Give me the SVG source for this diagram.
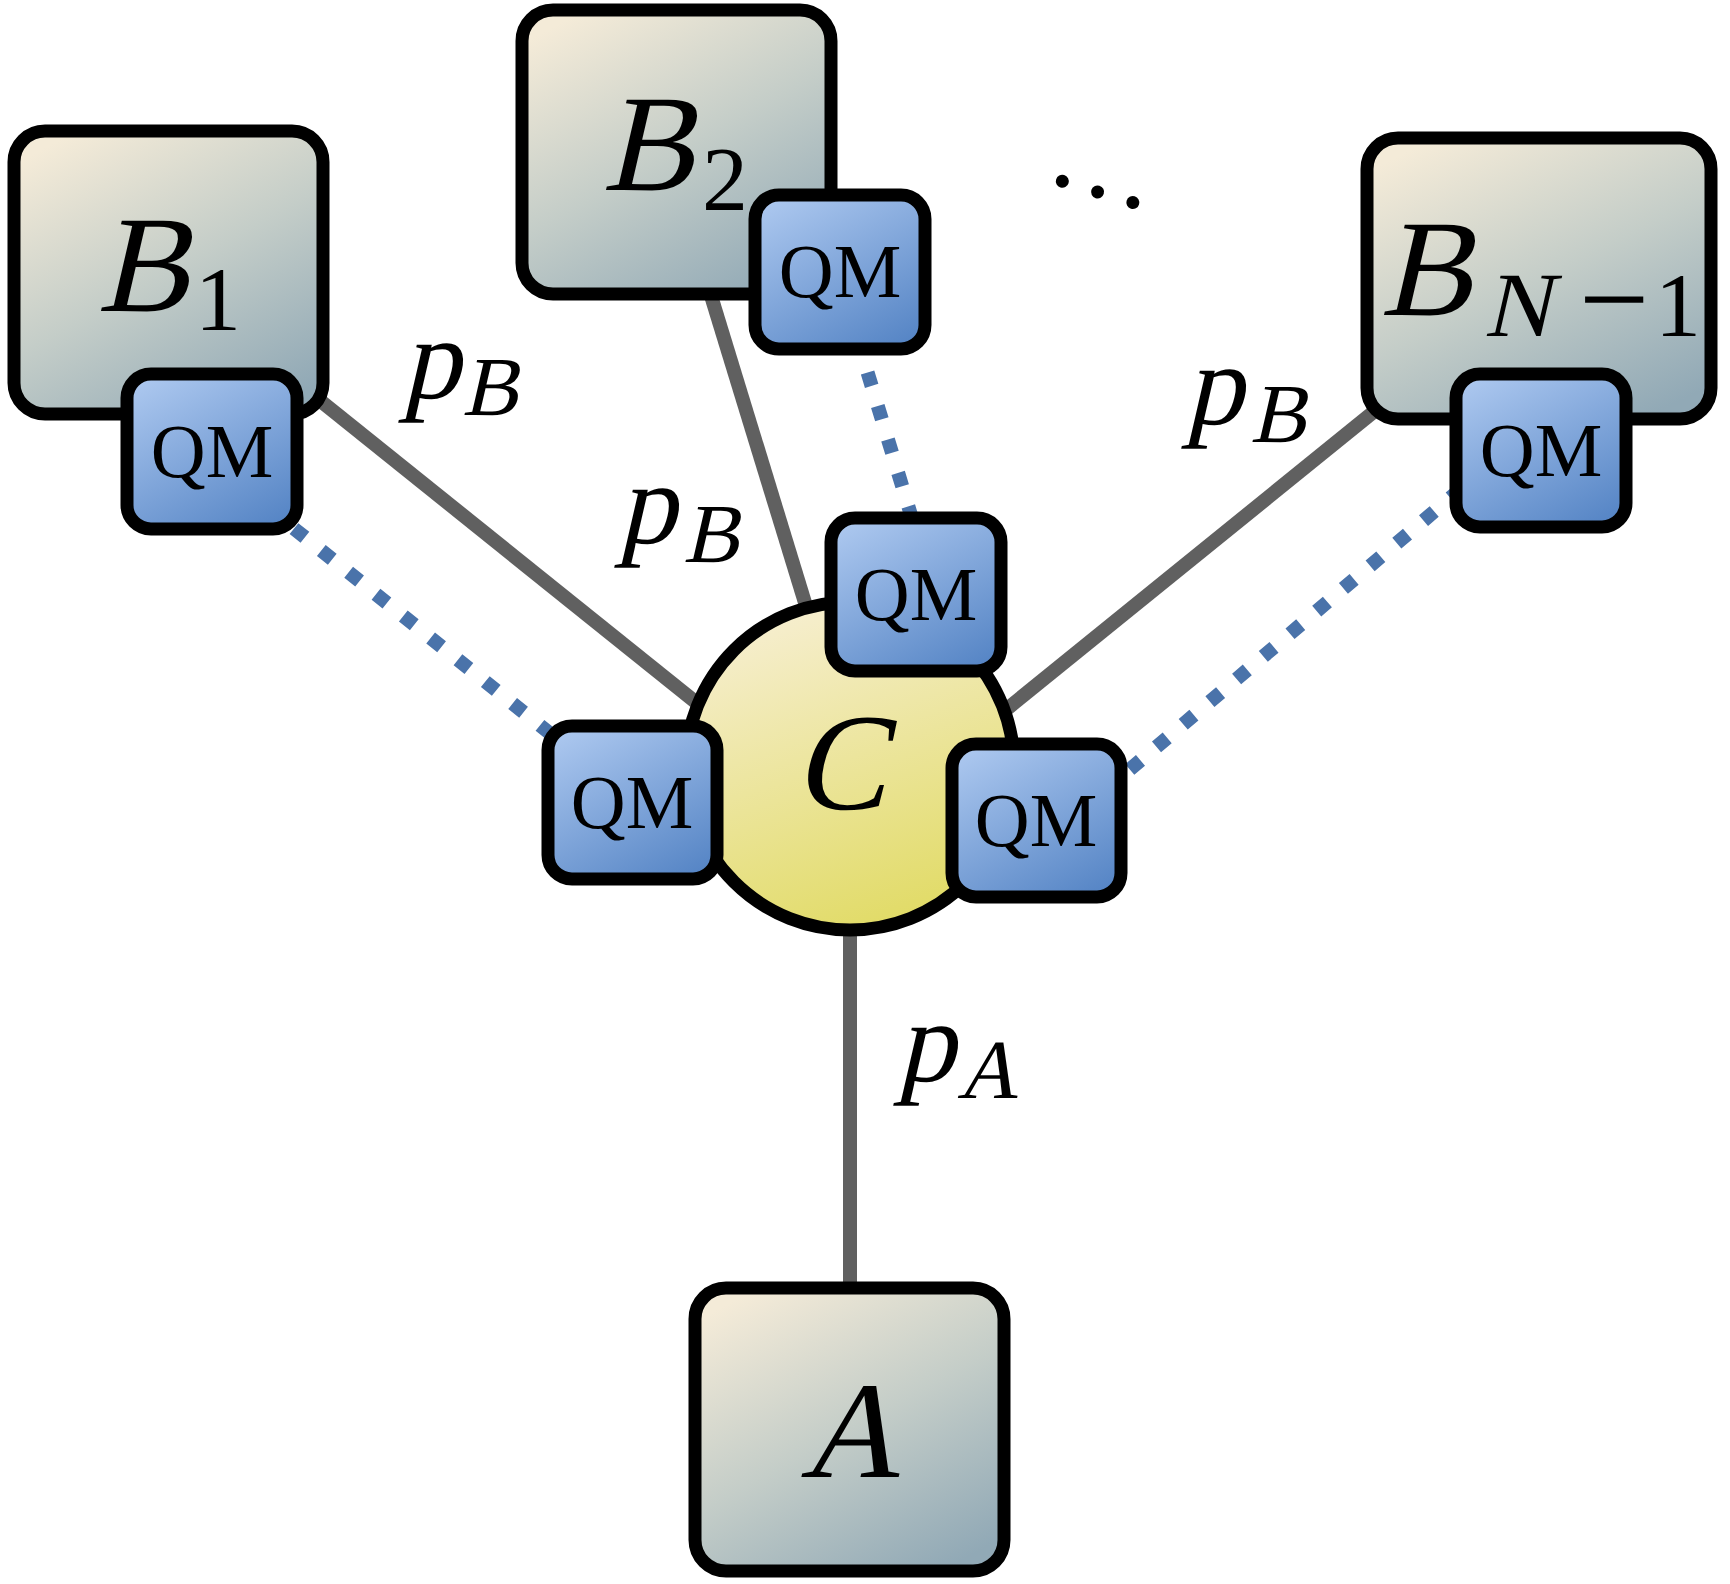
<svg xmlns="http://www.w3.org/2000/svg" width="1730" height="1584" viewBox="0 0 1730 1584">
<defs>
<linearGradient id="gBox" x1="0.2" y1="0" x2="0.8" y2="1">
<stop offset="0" stop-color="#f4ebd8"/>
<stop offset="0.5" stop-color="#c4cdc8"/>
<stop offset="1" stop-color="#91a9b6"/>
</linearGradient>
<linearGradient id="gQM" x1="0.2" y1="0" x2="0.8" y2="1">
<stop offset="0" stop-color="#aac6ee"/>
<stop offset="1" stop-color="#5786c6"/>
</linearGradient>
<linearGradient id="gC" x1="0.25" y1="0" x2="0.6" y2="1">
<stop offset="0" stop-color="#f7efd3"/>
<stop offset="1" stop-color="#e1db66"/>
</linearGradient>
</defs>
<style>
.box{fill:url(#gBox);stroke:#000;stroke-width:13}
.qm{fill:url(#gQM);stroke:#000;stroke-width:13}
.circ{fill:url(#gC);stroke:#000;stroke-width:13}
.wire{stroke:#606060;stroke-width:14;fill:none}
.dot{stroke:#4a73aa;stroke-width:14;stroke-dasharray:14 21;fill:none}
text{font-family:"Liberation Serif","Times New Roman",serif;fill:#000}
.qmt{font-size:76px;text-anchor:middle}
.big{font-size:138px}
.lbl{font-size:116px}
.sub{font-size:84px}
.num{font-size:92px}
</style>
<rect width="1730" height="1584" fill="#fff"/>
<g id="connectors">
<line class="wire" x1="160" y1="272" x2="850" y2="826"/>
<line class="wire" x1="667" y1="152" x2="855" y2="766"/>
<line class="wire" x1="1539" y1="278" x2="850" y2="836"/>
<line class="wire" x1="850" y1="766" x2="850" y2="1300"/>
<line class="dot" x1="212" y1="463" x2="632" y2="799"/>
<line class="dot" x1="837" y1="272" x2="935" y2="594"/>
<line class="dot" x1="1541" y1="421" x2="1036" y2="849"/>
</g>
<g id="labels">
<text class="lbl" transform="translate(402 398) skewX(-13)">p</text>
<text class="sub" transform="translate(462 415) skewX(-13)">B</text>
<text class="lbl" transform="translate(618 543) skewX(-13)">p</text>
<text class="sub" transform="translate(683 562) skewX(-13)">B</text>
<text class="lbl" transform="translate(1185 424) skewX(-13)">p</text>
<text class="sub" transform="translate(1250 442) skewX(-13)">B</text>
<text class="lbl" transform="translate(897 1081) skewX(-13)">p</text>
<text class="sub" transform="translate(957 1098) skewX(-13)">A</text>
<text x="1098" y="197" font-size="110" text-anchor="middle" transform="rotate(16.8 1098 191)">…</text>
</g>
<g id="B1">
<rect class="box" x="14" y="131" width="309" height="283" rx="31"/>
<text class="big" transform="translate(97 311) skewX(-13)">B</text>
<text class="num" x="195" y="330">1</text>
</g>
<g id="B1-QM">
<rect class="qm" x="127" y="374" width="170" height="155" rx="24"/>
<text class="qmt" x="212" y="477">QM</text>
</g>
<g id="B2">
<rect class="box" x="522" y="10" width="309" height="284" rx="31"/>
<text class="big" transform="translate(602 190) skewX(-13)">B</text>
<text class="num" x="702" y="210">2</text>
</g>
<g id="B2-QM">
<rect class="qm" x="755" y="195" width="170" height="154" rx="24"/>
<text class="qmt" x="840" y="297">QM</text>
</g>
<g id="BN1">
<rect class="box" x="1367" y="138" width="344" height="281" rx="31"/>
<text class="big" transform="translate(1380 315) skewX(-13)">B</text>
<text class="num" transform="translate(1484 336) skewX(-13)">N</text>
<text x="1579" y="341" font-size="125">−</text>
<text class="num" x="1655" y="336">1</text>
</g>
<g id="BN1-QM">
<rect class="qm" x="1456" y="374" width="170" height="153" rx="24"/>
<text class="qmt" x="1541" y="476">QM</text>
</g>
<g id="A">
<rect class="box" x="695" y="1288" width="309" height="283" rx="31"/>
<text class="big" transform="translate(800 1477) skewX(-13)">A</text>
</g>
<g id="C">
<circle class="circ" cx="850" cy="766" r="164"/>
<text class="big" transform="translate(794 809) skewX(-13)">C</text>
</g>
<g id="C-QM-top">
<rect class="qm" x="831" y="518" width="170" height="153" rx="24"/>
<text class="qmt" x="916" y="620">QM</text>
</g>
<g id="C-QM-left">
<rect class="qm" x="548" y="726" width="169" height="153" rx="24"/>
<text class="qmt" x="632" y="828">QM</text>
</g>
<g id="C-QM-right">
<rect class="qm" x="952" y="744" width="169" height="153" rx="24"/>
<text class="qmt" x="1036" y="846">QM</text>
</g>
</svg>
